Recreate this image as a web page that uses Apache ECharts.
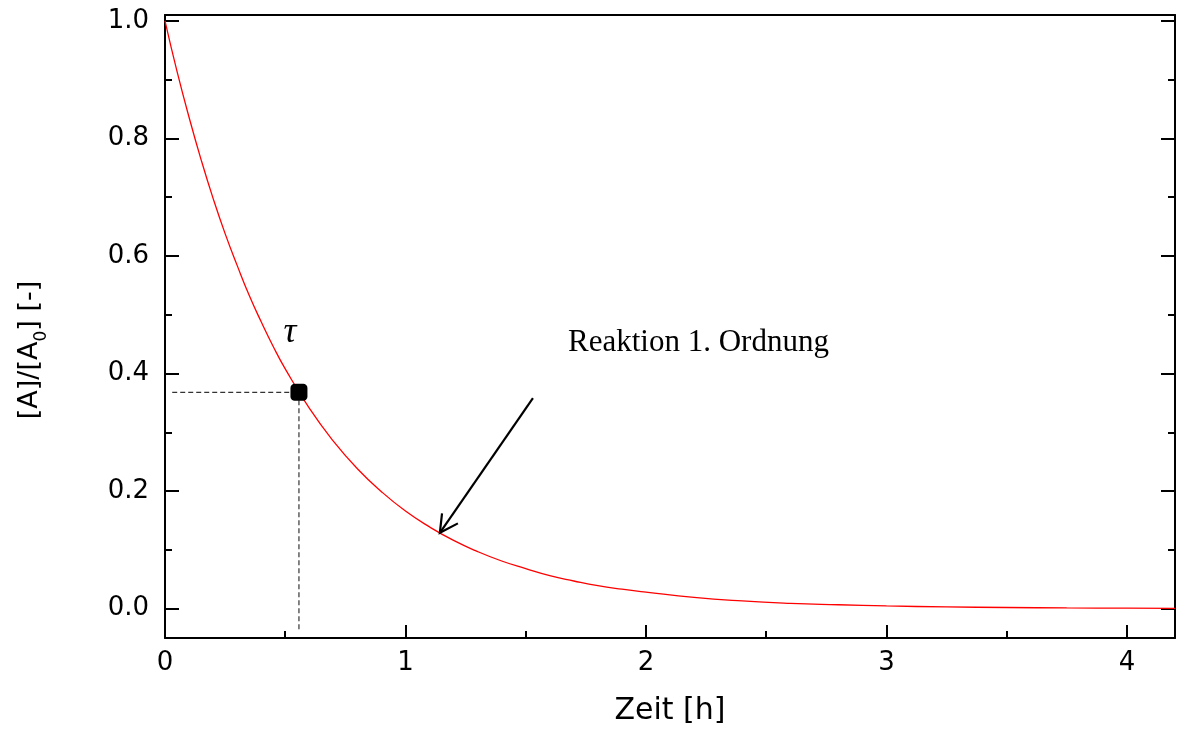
<!DOCTYPE html>
<html>
<head>
<meta charset="utf-8">
<script src="https://cdn.jsdelivr.net/npm/echarts@6/dist/echarts.min.js"></script>
<style>html,body{margin:0;padding:0;background:#fff}#c{width:1177px;height:733px}</style>
</head>
<body>
<div id="c"></div>
<script>
// Curve: time [h] and [A]/[A0]
var times  = [0, 0.05, 0.1, 0.15, 0.2, 0.25, 0.3, 0.35, 0.4, 0.45, 0.5, 0.6, 0.7, 0.8, 0.9, 1.0, 1.1, 1.2, 1.3, 1.4, 1.5, 1.6, 1.7, 1.8, 1.9, 2.0, 2.2, 2.4, 2.6, 2.8, 3.0, 3.25, 3.5, 3.75, 4.0, 4.2];
var ratios = [1.0, 0.914, 0.836, 0.764, 0.698, 0.638, 0.584, 0.533, 0.488, 0.446, 0.408, 0.341, 0.285, 0.238, 0.199, 0.166, 0.139, 0.116, 0.097, 0.081, 0.068, 0.056, 0.047, 0.039, 0.033, 0.028, 0.019, 0.013, 0.009, 0.0066, 0.0046, 0.0029, 0.0019, 0.0012, 0.0008, 0.0005];
// tau point
var tauPoint = [0.557, 0.368];
// dashed guide lines
var guideH = [[0.03, 0.368], [0.557, 0.368]];
var guideV = [[0.557, 0.368], [0.557, -0.036]];
// arrow (tail, tip) and arrow head arms
var arrowShaft = [[1.530, 0.358], [1.143, 0.129]];
var arrowHead = [[1.152, 0.162], [1.143, 0.129], [1.218, 0.145]];
// labels
var tauLabel = [0.52, 0.47];
var noteLabel = [1.676, 0.453];
var noteText = 'Reaktion 1. Ordnung';
// axes
var xTicks = [0, 1, 2, 3, 4];
var xMinor = [0.5, 1.5, 2.5, 3.5];
var yTicks = [0, 0.2, 0.4, 0.6, 0.8, 1.0];
var yMinor = [0.1, 0.3, 0.5, 0.7, 0.9];
var xName = 'Zeit [h]';

var curve = times.map(function (t, i) { return [t, ratios[i]]; });
var font = 'DejaVu Sans';
var chart = echarts.init(document.getElementById('c'), null, {renderer: 'canvas'});
var axisLine = {show: true, onZero: false, lineStyle: {color: '#000', width: 2}};
var noLine = {show: false, onZero: false};
function yAx(pos, kind) {
  // kind: 'label' | 'major' | 'minor'
  return {
    type: 'value', position: pos, min: -0.05, max: 1.01,
    axisLine: kind === 'label' ? axisLine : noLine, splitLine: {show: false},
    axisTick: {show: kind !== 'label', inside: true, length: kind === 'major' ? 14 : 7,
      lineStyle: {color: '#000', width: 2},
      customValues: kind === 'major' ? yTicks : yMinor},
    axisLabel: {show: kind === 'label' && pos === 'left', customValues: yTicks, margin: 16, color: '#000',
      fontFamily: font, fontSize: 26,
      formatter: function (v) { return v.toFixed(1); }}
  };
}
function xAx(pos, kind) {
  return {
    type: 'value', min: 0, max: 4.2, position: pos,
    axisLine: kind === 'label' ? axisLine : noLine, splitLine: {show: false},
    axisTick: {show: kind !== 'label' && pos === 'bottom', inside: true, length: kind === 'major' ? 13 : 7,
      lineStyle: {color: '#000', width: 2}, customValues: kind === 'major' ? xTicks : xMinor},
    axisLabel: {show: kind === 'label' && pos === 'bottom', color: '#000', fontFamily: font, fontSize: 26,
      margin: 12, customValues: xTicks},
    name: kind === 'label' && pos === 'bottom' ? xName : '', nameLocation: 'middle', nameGap: 58,
    nameTextStyle: {color: '#000', fontFamily: font, fontSize: 30}
  };
}
chart.setOption({
  animation: false,
  grid: {left: 165, right: 2, top: 15, bottom: 95},
  xAxis: [xAx('bottom', 'label'), xAx('bottom', 'major'), xAx('bottom', 'minor'), xAx('top', 'label')],
  yAxis: [yAx('left', 'label'), yAx('left', 'major'), yAx('left', 'minor'),
          yAx('right', 'label'), yAx('right', 'major'), yAx('right', 'minor')],
  series: [{
    type: 'line', data: curve, smooth: 0.5, showSymbol: false, symbol: 'none',
    lineStyle: {color: '#ff0000', width: 1.3}, z: 3
  }, {
    type: 'line', data: guideH, symbol: 'none', lineStyle: {color: '#333', width: 1.2, type: [5, 3]}, z: 2
  }, {
    type: 'line', data: guideV, symbol: 'none', lineStyle: {color: '#333', width: 1.2, type: [5, 3]}, z: 2
  }, {
    type: 'line', data: arrowShaft, symbol: 'none', lineStyle: {color: '#000', width: 2.2}, z: 4
  }, {
    type: 'line', data: arrowHead, symbol: 'none', lineStyle: {color: '#000', width: 2.2, join: 'miter'}, z: 4
  }, {
    type: 'scatter', data: [tauPoint], symbol: 'roundRect', symbolSize: 17,
    itemStyle: {color: '#000', opacity: 1}, z: 5
  }, {
    type: 'scatter', data: [tauLabel], symbolSize: 0, z: 5, itemStyle: {opacity: 1},
    label: {show: true, position: [0, 0], align: 'center', verticalAlign: 'middle',
      formatter: 'τ', fontFamily: 'Liberation Serif', fontStyle: 'italic', fontSize: 36, color: '#000'}
  }, {
    type: 'scatter', data: [noteLabel], symbolSize: 0, z: 5, itemStyle: {opacity: 1},
    label: {show: true, position: [0, 0], align: 'left', verticalAlign: 'middle',
      formatter: noteText, fontFamily: 'Liberation Serif', fontSize: 31, color: '#000'}
  }],
  graphic: [{
    type: 'text', x: 30, y: 350, rotation: Math.PI / 2,
    style: {
      text: '{n|[A]/[A}{s|0}{n|] [-]}',
      align: 'center', verticalAlign: 'middle',
      rich: {
        n: {fontFamily: font, fontSize: 27, fill: '#000', verticalAlign: 'middle', lineHeight: 30},
        s: {fontFamily: font, fontSize: 17, fill: '#000', verticalAlign: 'bottom', lineHeight: 40}
      }
    }
  }]
});
</script>
</body>
</html>
